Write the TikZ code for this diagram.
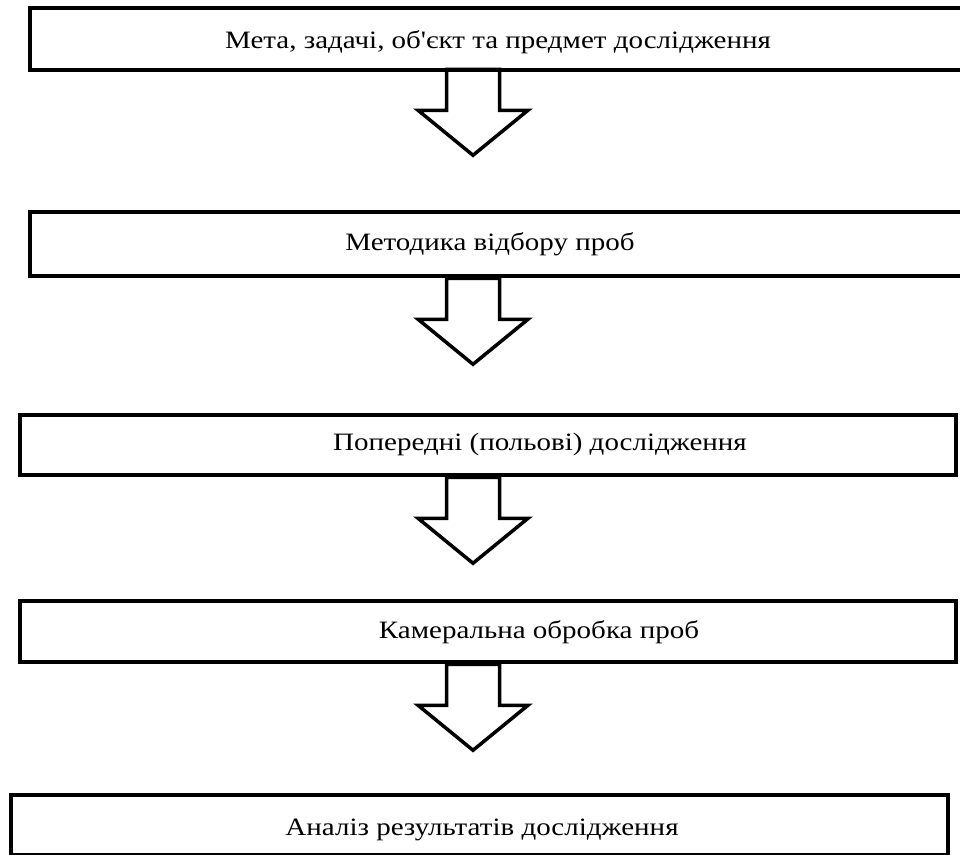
\documentclass[tikz,border=0pt]{standalone}
\usepackage{fontspec}
\setmainfont{Liberation Serif}[Ligatures=TeXOff]
\usepackage{graphicx}
\usepackage{tikz}
\usetikzlibrary{positioning, calc}

\newcommand{\widetext}[1]{\scalebox{1.16}[1]{#1}}

\begin{document}
\begin{tikzpicture}[
        x=1pt, y=-1pt,
        stagebox/.style={rectangle, draw=black, line width=4.5pt, inner sep=0pt},
        stagetext/.style={anchor=base, inner sep=0pt, font=\fontsize{25}{29}\selectfont},
        blockarrow/.pic={\draw[line width=3.5pt, line join=miter]
            (-26.5,0) -- (-26.5,41) -- (-55,41) -- (0,86) -- (55,41) -- (26.5,41) -- (26.5,0) -- cycle;}
    ]
    \useasboundingbox (0,0) rectangle (960,854);
    \clip (0,0) rectangle (960,854);

    % Stages
    \node (meta) [stagebox, minimum width=960pt, minimum height=62pt] at (510,39) {};
    \node (method) [stagebox, minimum width=960pt, minimum height=64pt] at (510,244) {};
    \node (field) [stagebox, minimum width=936pt, minimum height=60pt] at (488,445) {};
    \node (lab) [stagebox, minimum width=936pt, minimum height=61pt] at (488,631.5) {};
    \node (analysis) [stagebox, minimum width=937pt, minimum height=60pt] at (479.5,825) {};

    % Texts
    \node (metatext) [stagetext] at (498,48) {\widetext{Мета, задачі, об'єкт та предмет дослідження}};
    \node (methodtext) [stagetext] at (490,250) {\widetext{Методика відбору проб}};
    \node (fieldtext) [stagetext] at (540,450) {\widetext{Попередні (польові) дослідження}};
    \node (labtext) [stagetext] at (539,638) {\widetext{Камеральна обробка проб}};
    \node (analysistext) [stagetext] at (482,835) {\widetext{Аналіз результатів дослідження}};

    % Arrows
    \coordinate (axis) at (473,0);
    \pic at ([yshift=3pt]meta.south -| axis) {blockarrow};
    \pic at (method.south -| axis) {blockarrow};
    \pic at (field.south -| axis) {blockarrow};
    \pic at (lab.south -| axis) {blockarrow};

\end{tikzpicture}
\end{document}
